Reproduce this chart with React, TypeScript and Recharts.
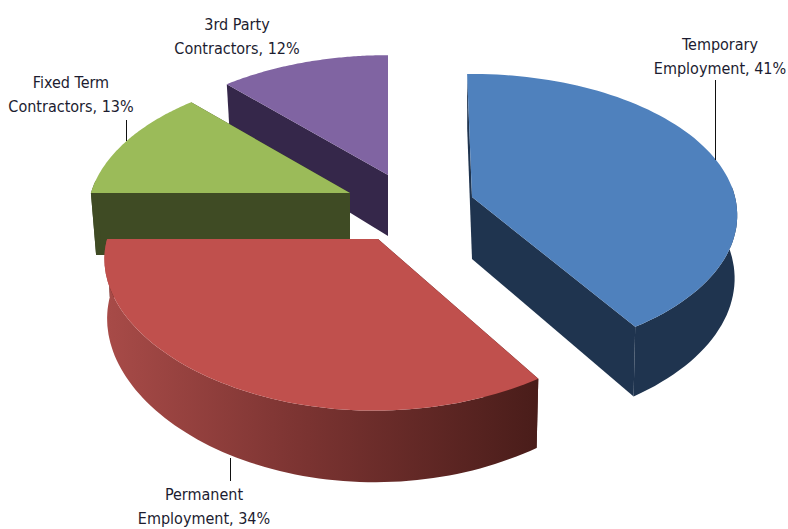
import { PieChart, Pie } from 'recharts';

// painted back to front, so the list runs counter-clockwise from the top of the pie
const categories = ['3rd Party Contractors', 'Fixed Term Contractors', 'Permanent Employment', 'Temporary Employment'];
const shares = [12, 13, 34, 41];
const topColors = ['#8064A2', '#9BBB59', '#C0504D', '#4F81BD'];
const sideColors = ['#35274A', '#3F4B24', '#4A1D1A', '#1F344F'];

const data = categories.map((name, i) => ({ name, value: shares[i], index: i }));

const WIDTH = 788;
const HEIGHT = 529;
const RX = 263;
const RY = 139;

// per slice: pull out of the pie (px), x scale, perspective in x and y, shear, angle nudge,
// thickness and how much the lower rim shrinks
const sliceLook = [
  { dx: 8, dy: -35, sx: 1, kx: 0.16, k: 0.16, shear: 0, spin: 0, depth: 61, low: 0.98 },
  { dx: -30, dy: -17, sx: 0.985, kx: 0.16, k: 0.16, shear: 0, spin: 0, depth: 62, low: 0.98 },
  { dx: -2, dy: 29, sx: 1.03, kx: 0.13, k: 0.19, shear: -0.02, spin: 0, depth: 58, low: 0.99 },
  { dx: 92, dy: -13, sx: 1.0, kx: 0.13, k: 0.13, shear: 0, spin: 1.2, depth: 62, low: 0.99 },
];

const labelBoxes = [
  { x: 237, y: 30, lines: ['3rd Party', 'Contractors, 12%'], line: null },
  { x: 71, y: 88, lines: ['Fixed Term', 'Contractors, 13%'], line: [126.5, 120, 126.5, 141] },
  { x: 204, y: 500, lines: ['Permanent', 'Employment, 34%'], line: [230.5, 458, 230.5, 481] },
  { x: 720, y: 50, lines: ['Temporary', 'Employment, 41%'], line: [715.5, 80, 715.5, 160] },
];

// recharts angle (degrees, counter-clockwise from 3 o'clock) to a point on the tilted disc
function project(angle: number, ox: number, oy: number, look: any, lower: boolean) {
  const rad = (angle * Math.PI) / 180;
  const u = Math.cos(rad);
  const v = -Math.sin(rad);
  const s = 1 / (1 - look.k * v);
  const sX = 1 / (1 - look.kx * v);
  const scale = lower ? look.low : 1;
  const dy = RY * v * s;
  return {
    x: ox + (RX * look.sx * u * sX + look.shear * dy) * scale,
    y: oy + dy + (lower ? look.depth * s : 0),
    front: v > -0.1,
  };
}

function toPath(points: { x: number; y: number }[]) {
  return points.map((p, i) => `${i ? 'L' : 'M'}${p.x.toFixed(1)} ${p.y.toFixed(1)}`).join(' ') + ' Z';
}

function Slice3D(props: any) {
  const { cx, cy, startAngle, endAngle, payload } = props;
  const i = payload.index;
  const look = sliceLook[i];
  const ox = cx + look.dx;
  const oy = cy + look.dy;
  const steps = 80;
  const top = [];
  const bottom = [];
  for (let n = 0; n <= steps; n++) {
    const a = startAngle + look.spin + ((endAngle - startAngle) * n) / steps;
    top.push(project(a, ox, oy, look, false));
    bottom.push(project(a, ox, oy, look, true));
  }
  const c = { x: ox, y: oy };
  const cLow = { x: ox, y: oy + look.depth };
  const side = sideColors[i];
  const wallFill = i === 2 ? 'url(#redWall)' : side;
  // only the part of the rim facing the viewer gets a wall, the back would show as a halo
  const wallTop = top.filter((p) => p.front);
  const wallBottom = bottom.filter((p) => p.front).reverse();
  return (
    <g>
      <path d={toPath([c, top[0], bottom[0], cLow])} fill={side} />
      <path d={toPath([c, top[steps], bottom[steps], cLow])} fill={side} />
      {wallTop.length > 1 && <path d={toPath([...wallTop, ...wallBottom])} fill={wallFill} />}
      <path d={toPath([c, ...top])} fill={topColors[i]} />
    </g>
  );
}

function SliceLabel(props: any) {
  const box = labelBoxes[props.payload.index];
  return (
    <g>
      {box.line && (
        <line x1={box.line[0]} y1={box.line[1]} x2={box.line[2]} y2={box.line[3]} stroke="#111" strokeWidth={1} />
      )}
      <text
        x={box.x}
        y={box.y}
        textAnchor="middle"
        fontFamily="'DejaVu Sans Condensed', sans-serif"
        fontSize={16}
        fill="#1c1c30"
      >
        <tspan x={box.x} dy={0}>{box.lines[0]}</tspan>
        <tspan x={box.x} dy={24}>{box.lines[1]}</tspan>
      </text>
    </g>
  );
}

export default function App() {
  return (
    <div style={{ position: 'absolute', left: 0, top: 0, width: WIDTH, height: HEIGHT, background: '#fff' }}>
      <PieChart width={WIDTH} height={HEIGHT} margin={{ top: 0, right: 0, bottom: 0, left: 0 }}>
        <defs>
          <linearGradient id="redWall" gradientUnits="userSpaceOnUse" x1={105} y1={0} x2={535} y2={0}>
            <stop offset="0%" stopColor="#A84B48" />
            <stop offset="45%" stopColor="#7C3432" />
            <stop offset="100%" stopColor="#4A1D1A" />
          </linearGradient>
        </defs>
        <Pie
          data={data}
          dataKey="value"
          nameKey="name"
          cx={380}
          cy={210}
          outerRadius={200}
          startAngle={90}
          endAngle={450}
          stroke="none"
          shape={Slice3D}
          label={SliceLabel}
          labelLine={false}
          isAnimationActive={false}
        />
      </PieChart>
    </div>
  );
}
